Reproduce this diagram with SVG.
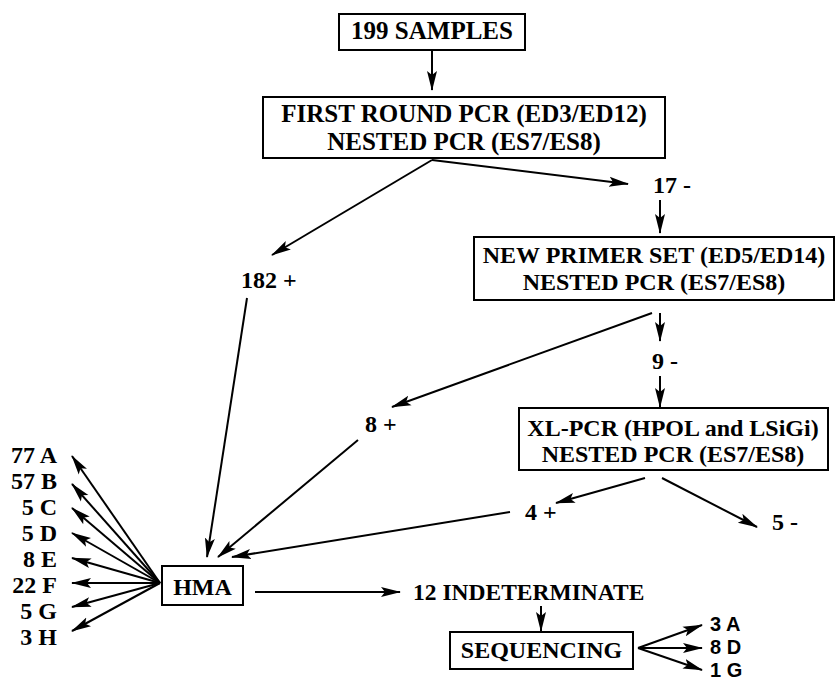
<svg xmlns="http://www.w3.org/2000/svg" width="837" height="682" viewBox="0 0 837 682">
<defs>
<marker id="ah" markerUnits="userSpaceOnUse" markerWidth="20" markerHeight="12" refX="19" refY="6" orient="auto">
<path d="M0,1 L20,6 L0,11 L4,6 z" fill="#000"/>
</marker>
<style>
.t{font-family:"Liberation Serif","Times New Roman",serif;font-weight:bold;font-size:24px;fill:#000}
.big{font-size:25px}
.s{font-family:"Liberation Sans",Arial,sans-serif;font-weight:bold;font-size:20px;fill:#000}
.box{fill:#fff;stroke:#000;stroke-width:2}
.c line{stroke:#000;stroke-width:2;fill:none}
.a{marker-end:url(#ah)}
</style>
</defs>
<rect width="837" height="682" fill="#fff"/>
<g class="c" id="connectors">
<line class="a" x1="432" y1="51" x2="432" y2="90"/>
<line class="a" x1="432" y1="160" x2="272" y2="255"/>
<line class="a" x1="432" y1="160" x2="628" y2="184"/>
<line class="a" x1="660" y1="200" x2="660" y2="233"/>
<line class="a" x1="660" y1="313" x2="660" y2="341"/>
<line class="a" x1="652" y1="313" x2="392" y2="407"/>
<line class="a" x1="660" y1="376" x2="660" y2="407"/>
<line class="a" x1="645" y1="478" x2="556" y2="503"/>
<line class="a" x1="662" y1="478" x2="757" y2="527"/>
<line class="a" x1="247" y1="298" x2="207" y2="557"/>
<line class="a" x1="358" y1="440" x2="218" y2="557"/>
<line class="a" x1="510" y1="512" x2="232" y2="557"/>
<line class="a" x1="160" y1="583" x2="72" y2="456"/>
<line class="a" x1="160" y1="583" x2="72" y2="484"/>
<line class="a" x1="160" y1="583" x2="72" y2="508"/>
<line class="a" x1="160" y1="583" x2="72" y2="533"/>
<line class="a" x1="160" y1="583" x2="72" y2="558"/>
<line class="a" x1="160" y1="583" x2="72" y2="583"/>
<line class="a" x1="160" y1="583" x2="72" y2="607"/>
<line class="a" x1="160" y1="583" x2="72" y2="631"/>
<line class="a" x1="255" y1="592" x2="400" y2="592"/>
<line class="a" x1="541" y1="606" x2="541" y2="631"/>
<line class="a" x1="638" y1="648" x2="702" y2="625"/>
<line class="a" x1="638" y1="648" x2="702" y2="648"/>
<line class="a" x1="638" y1="648" x2="702" y2="670"/>
</g>
<g id="samples">
<rect class="box" x="339" y="14" width="186" height="36"/>
<text class="t big" x="432" y="39" text-anchor="middle">199 SAMPLES</text>
</g>
<g id="first-round">
<rect class="box" x="263" y="97" width="402" height="61"/>
<text class="t big" x="464" y="122" text-anchor="middle">FIRST ROUND PCR (ED3/ED12)</text>
<text class="t big" x="464" y="150" text-anchor="middle">NESTED PCR (ES7/ES8)</text>
</g>
<g id="pos182"><text class="t" x="241" y="288">182 +</text></g>
<g id="neg17"><text class="t" x="653" y="193">17 -</text></g>
<g id="new-primer">
<rect class="box" x="474" y="237" width="360" height="63"/>
<text class="t" x="654" y="263" text-anchor="middle">NEW PRIMER SET (ED5/ED14)</text>
<text class="t" x="654" y="290" text-anchor="middle">NESTED PCR (ES7/ES8)</text>
</g>
<g id="neg9"><text class="t" x="652" y="369">9 -</text></g>
<g id="pos8"><text class="t" x="365" y="432">8 +</text></g>
<g id="xl-pcr">
<rect class="box" x="519" y="408" width="309" height="62"/>
<text class="t" x="673" y="436" text-anchor="middle">XL-PCR (HPOL and LSiGi)</text>
<text class="t" x="673" y="462" text-anchor="middle">NESTED PCR (ES7/ES8)</text>
</g>
<g id="pos4"><text class="t" x="525" y="520">4 +</text></g>
<g id="neg5"><text class="t" x="772" y="530">5 -</text></g>
<g id="hma">
<rect class="box" x="162" y="566" width="81" height="39"/>
<text class="t" x="202.5" y="595" text-anchor="middle">HMA</text>
</g>
<g id="hma-results">
<text class="t" x="57" y="463" text-anchor="end">77 A</text>
<text class="t" x="57" y="489" text-anchor="end">57 B</text>
<text class="t" x="57" y="515" text-anchor="end">5 C</text>
<text class="t" x="57" y="541" text-anchor="end">5 D</text>
<text class="t" x="57" y="567" text-anchor="end">8 E</text>
<text class="t" x="57" y="593" text-anchor="end">22 F</text>
<text class="t" x="57" y="619" text-anchor="end">5 G</text>
<text class="t" x="57" y="645" text-anchor="end">3 H</text>
</g>
<g id="indeterminate"><text class="t" x="413" y="600" style="font-size:23.5px">12 INDETERMINATE</text></g>
<g id="sequencing">
<rect class="box" x="450" y="632" width="183" height="37"/>
<text class="t" x="541.5" y="658" text-anchor="middle">SEQUENCING</text>
</g>
<g id="seq-results">
<text class="s" x="710" y="631">3 A</text>
<text class="s" x="710" y="654">8 D</text>
<text class="s" x="710" y="677">1 G</text>
</g>
</svg>
